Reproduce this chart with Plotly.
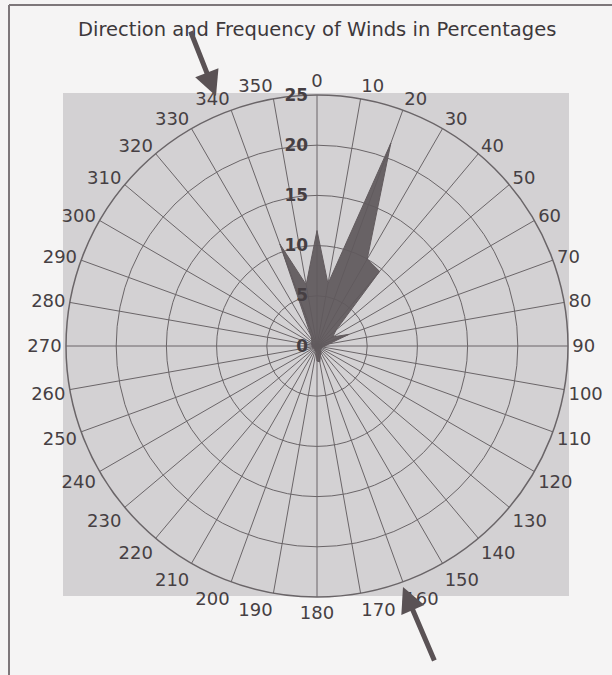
import plotly.graph_objects as go

# Wind directions (degrees) and frequency (%)
directions = list(range(0, 360, 10))
frequency = [11.5, 6.3, 21.5, 10.0, 9.7, 2.5, 1.8, 3.4, 1.2, 0.8,
             0.6, 0.5, 0.5, 0.5, 0.6, 0.8, 1.0, 1.6, 1.5, 0.6,
             0.5, 0.4, 0.4, 0.4, 0.4, 0.4, 0.5, 0.5, 0.5, 0.6,
             0.6, 0.7, 0.8, 1.2, 10.8, 6.2]
angle_labels = [str(d) for d in directions]
radial_ticks = [0, 5, 10, 15, 20, 25]
title_text = "Direction and Frequency of Winds in Percentages"

W, H = 612, 675
def px(x):
    return x / W
def py(y):
    return 1 - y / H

GRID = "#6a6568"
TEXT = "#463f43"
BG = "#d3d1d3"
FILL = "#625b5e"
FONT = "DejaVu Sans, Liberation Sans, Arial, sans-serif"

fig = go.Figure()
fig.add_trace(go.Scatterpolar(
    r=frequency + frequency[:1],
    theta=directions + directions[:1],
    mode="lines",
    fill="toself",
    fillcolor="rgba(96,89,92,0.93)",
    line=dict(color=FILL, width=1),
    hoverinfo="skip",
))

fig.update_layout(
    width=W, height=H,
    margin=dict(l=0, r=0, t=0, b=0),
    paper_bgcolor="#f5f4f4",
    showlegend=False,
    font=dict(family=FONT, color=TEXT),
    polar=dict(
        domain=dict(x=[px(66), px(568)], y=[py(597), py(95)]),
        bgcolor=BG,
        angularaxis=dict(
            rotation=90, direction="clockwise",
            tickmode="array", tickvals=directions, ticktext=angle_labels,
            tickfont=dict(size=18, color=TEXT, family=FONT),
            showline=True, linecolor=GRID, linewidth=1.5,
            gridcolor=GRID, gridwidth=1.3, ticks="",
            layer="above traces",
        ),
        radialaxis=dict(
            range=[0, 25], tickmode="array", tickvals=radial_ticks,
            ticktext=[str(t) + "\u00a0" for t in radial_ticks],
            tickfont=dict(size=17, color=TEXT, family=FONT, weight="bold"),
            showline=False, gridcolor=GRID, gridwidth=1.3, ticks="",
            angle=90, tickangle=90, side="counterclockwise",
            layer="above traces",
        ),
    ),
    shapes=[
        dict(type="rect", xref="paper", yref="paper",
             x0=px(63), x1=px(569), y0=py(596), y1=py(93),
             fillcolor=BG, line=dict(width=0), layer="below"),
        dict(type="line", xref="paper", yref="paper",
             x0=px(9), x1=px(612), y0=py(5), y1=py(5),
             line=dict(color="#7d777a", width=2)),
        dict(type="line", xref="paper", yref="paper",
             x0=px(9), x1=px(9), y0=py(5), y1=py(675),
             line=dict(color="#7d777a", width=2)),
    ],
    annotations=[
        dict(text=title_text, xref="paper", yref="paper",
             x=px(317), y=py(30), xanchor="center", yanchor="middle",
             showarrow=False,
             font=dict(size=19.5, color="#3d383b", family=FONT)),
        dict(text="", xref="paper", yref="paper",
             x=px(216), y=py(96), ax=-26, ay=-66,
             showarrow=True, arrowhead=2, arrowsize=1.0,
             arrowwidth=5, arrowcolor="#5a5255"),
        dict(text="", xref="paper", yref="paper",
             x=px(403), y=py(587), ax=32, ay=75,
             showarrow=True, arrowhead=2, arrowsize=1.0,
             arrowwidth=5, arrowcolor="#5a5255"),
    ],
)

fig.write_html("out.html",
               config={"displayModeBar": False},
               post_script="document.body.style.margin='0';"
                           "document.body.style.overflow='hidden';")
